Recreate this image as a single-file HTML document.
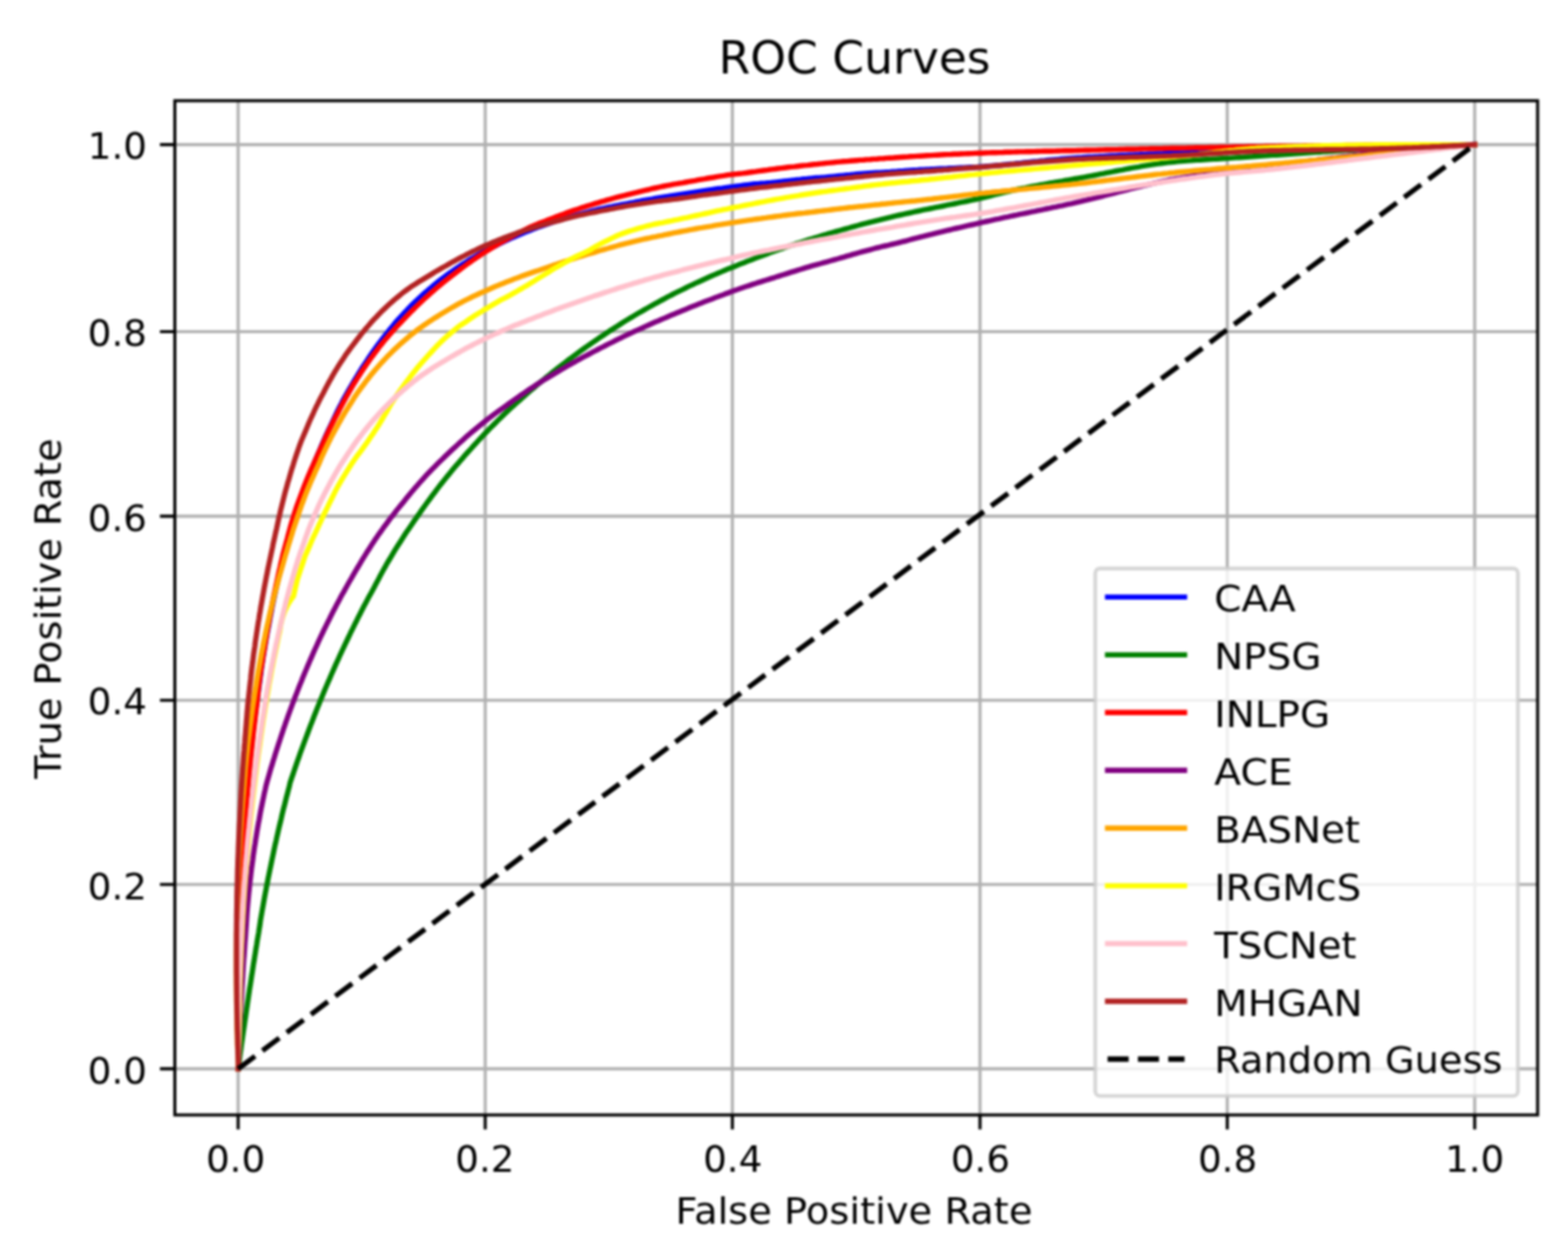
<!DOCTYPE html><html><head><meta charset="utf-8"><title>ROC Curves</title>
<style>html,body{margin:0;padding:0;background:#fff;width:1600px;height:1284px;overflow:hidden}svg{display:block;filter:blur(0.9px)}text{font-family:"DejaVu Sans", "Liberation Sans", sans-serif;fill:#000}</style></head><body>
<svg width="1600" height="1284" viewBox="0 0 1600 1284">
<rect width="1600" height="1284" fill="#fff"/>
<text x="872" y="75" font-size="46.5" text-anchor="middle">ROC Curves</text>
<path d="M243.0,102.8V1138.0M495.1,102.8V1138.0M747.3,102.8V1138.0M1000.0,102.8V1138.0M1252.3,102.8V1138.0M1504.8,102.8V1138.0M178.4,1090.9H1569.0M178.4,902.8H1569.0M178.4,714.7H1569.0M178.4,526.9H1569.0M178.4,338.5H1569.0M178.4,147.6H1569.0" stroke="#b0b0b0" stroke-width="3.1" fill="none"/>
<g fill="none" stroke-width="5.4" stroke-linejoin="round" stroke-linecap="square">
<path d="M243.0,1090.9 243.1,1086.3 243.1,1081.3 243.0,1076.4 242.9,1071.5 242.9,1066.6 242.8,1061.7 242.8,1056.8 242.7,1051.9 242.7,1047.0 242.7,1042.2 242.6,1037.3 242.6,1032.5 242.6,1027.7 242.6,1022.8 242.7,1018.0 242.7,1013.2 242.7,1008.5 242.8,1003.7 242.8,998.9 242.9,994.2 242.9,989.4 243.0,984.7 243.1,980.0 243.2,975.3 243.3,970.6 243.4,965.9 243.5,961.2 243.6,956.5 243.7,951.9 243.9,947.2 244.0,942.6 244.1,937.9 244.3,933.3 244.5,928.7 244.6,924.1 244.8,919.5 245.0,915.0 245.2,910.4 245.4,905.8 245.6,901.3 245.8,896.8 246.1,892.2 246.3,887.7 246.6,883.2 246.8,878.7 247.1,874.3 247.3,869.8 247.6,865.3 247.9,860.9 248.2,856.4 248.5,852.0 248.8,847.6 249.1,843.2 249.4,838.8 249.8,834.4 250.1,830.0 250.4,825.7 250.8,821.3 251.2,817.0 251.5,812.7 251.9,808.3 252.3,804.0 252.7,799.7 253.1,795.4 253.5,791.2 253.9,786.9 254.4,782.6 254.8,778.4 255.2,774.1 255.7,769.9 256.1,765.7 256.6,761.5 257.1,757.3 257.6,753.1 258.0,748.9 258.5,744.8 259.0,740.6 259.6,736.5 260.1,732.3 260.6,728.2 261.1,724.1 261.7,720.0 262.2,715.9 262.7,711.8 263.3,707.7 263.8,703.6 264.4,699.5 265.0,695.4 265.5,691.3 266.1,687.3 266.6,683.2 267.2,679.2 267.8,675.1 268.4,671.1 269.1,667.1 269.7,663.2 270.4,659.2 271.0,655.3 271.7,651.4 272.4,647.5 273.1,643.6 273.9,639.8 274.6,635.9 275.3,632.0 276.0,628.2 276.8,624.4 277.5,620.5 278.3,616.7 279.1,612.9 279.9,609.2 280.7,605.4 281.5,601.6 282.3,597.9 283.1,594.2 284.0,590.6 284.9,586.9 285.8,583.3 286.7,579.6 287.6,576.0 288.5,572.4 289.4,568.8 290.3,565.2 291.2,561.6 292.2,558.0 293.1,554.5 294.1,550.9 295.1,547.4 296.1,543.9 297.1,540.5 298.1,537.0 299.2,533.6 300.2,530.2 301.3,526.8 302.4,523.4 303.5,520.0 304.6,516.7 305.7,513.3 306.8,510.0 307.9,506.7 309.1,503.4 310.2,500.1 311.4,496.9 312.6,493.6 313.8,490.4 315.0,487.2 316.2,484.0 317.4,480.8 318.6,477.6 319.9,474.4 321.2,471.3 322.5,468.2 323.8,465.1 325.1,462.0 326.4,459.0 327.7,455.9 329.0,452.8 330.3,449.7 331.6,446.7 333.0,443.6 334.4,440.7 335.8,437.7 337.2,434.8 338.6,431.8 340.0,428.9 341.4,425.9 342.8,423.0 344.2,420.0 345.6,417.1 347.1,414.2 348.6,411.4 350.0,408.5 351.6,405.7 353.1,403.0 354.7,400.2 356.2,397.5 357.8,394.8 359.4,392.1 361.0,389.4 362.6,386.7 364.2,384.1 365.8,381.4 367.5,378.7 369.1,376.1 370.8,373.5 372.5,370.9 374.2,368.4 375.9,365.8 377.6,363.3 379.3,360.8 381.0,358.3 382.8,355.8 384.6,353.3 386.4,350.9 388.2,348.5 390.0,346.1 391.9,343.8 393.7,341.4 395.6,339.1 397.4,336.7 399.3,334.4 401.2,332.1 403.1,329.8 405.0,327.6 407.0,325.4 409.0,323.2 411.0,321.1 413.0,318.9 415.0,316.8 417.0,314.6 419.0,312.5 421.1,310.5 423.2,308.4 425.3,306.4 427.4,304.5 429.6,302.5 431.7,300.6 433.9,298.6 436.1,296.7 438.3,294.8 440.5,293.0 442.7,291.1 444.9,289.3 447.2,287.5 449.5,285.7 451.8,283.9 454.1,282.2 456.4,280.4 458.7,278.8 461.1,277.1 463.5,275.4 465.9,273.8 468.3,272.2 470.7,270.6 473.1,269.0 475.6,267.5 478.0,265.9 480.5,264.4 483.0,263.0 485.6,261.5 488.1,260.1 490.6,258.6 493.2,257.2 495.7,255.8 498.3,254.5 500.9,253.1 503.6,251.8 506.2,250.5 508.8,249.2 511.5,247.9 514.1,246.6 516.8,245.4 519.5,244.1 522.2,242.9 524.9,241.7 527.6,240.5 530.4,239.4 533.1,238.2 535.9,237.1 538.6,236.0 541.4,234.9 544.2,233.8 547.0,232.7 549.8,231.6 552.7,230.6 555.5,229.6 558.4,228.6 561.2,227.6 564.1,226.6 567.0,225.7 570.0,224.8 572.9,223.9 575.9,223.0 578.8,222.2 581.8,221.3 584.8,220.5 587.8,219.7 590.8,218.9 593.8,218.1 596.8,217.3 599.9,216.5 602.9,215.7 605.9,215.0 609.0,214.2 612.1,213.5 615.2,212.8 618.3,212.1 621.4,211.5 624.5,210.9 627.7,210.2 630.8,209.6 634.0,209.0 637.1,208.4 640.3,207.8 643.4,207.2 646.6,206.6 649.7,205.9 652.9,205.3 656.0,204.7 659.2,204.1 662.4,203.6 665.6,203.1 668.9,202.5 672.1,202.0 675.3,201.5 678.5,201.0 681.7,200.5 684.9,199.9 688.2,199.4 691.4,198.9 694.6,198.4 697.9,197.9 701.1,197.4 704.3,196.9 707.5,196.4 710.8,195.9 714.0,195.4 717.2,194.9 720.5,194.4 723.8,193.9 727.0,193.5 730.3,193.0 733.6,192.5 736.8,192.1 740.1,191.6 743.4,191.2 746.7,190.8 749.9,190.3 753.2,189.9 756.5,189.5 759.8,189.0 763.1,188.6 766.4,188.2 769.7,187.8 773.2,187.6 776.6,187.3 780.0,187.1 783.4,186.8 786.8,186.5 790.1,186.1 793.4,185.8 796.8,185.4 800.1,185.0 803.4,184.6 806.8,184.3 810.1,183.9 813.5,183.5 816.8,183.2 820.1,182.8 823.5,182.5 826.8,182.1 830.2,181.8 833.5,181.4 837.0,181.3 840.5,181.1 843.9,180.8 847.2,180.4 850.6,180.1 853.9,179.8 857.3,179.4 860.7,179.1 864.0,178.8 867.4,178.5 870.8,178.1 874.1,177.8 877.5,177.5 880.9,177.2 884.2,176.9 887.6,176.6 891.0,176.4 894.5,176.2 898.0,176.1 901.5,175.9 905.0,175.7 908.4,175.5 911.8,175.2 915.2,175.0 918.6,174.7 922.0,174.5 925.4,174.2 928.8,174.0 932.1,173.8 935.5,173.6 938.9,173.3 942.3,173.1 945.7,172.9 949.1,172.8 952.5,172.6 955.9,172.4 959.4,172.2 962.8,172.1 966.3,172.0 969.8,171.8 973.2,171.7 976.7,171.5 980.1,171.3 983.6,171.2 987.0,171.0 990.4,170.8 993.9,170.7 997.3,170.5 1000.8,170.2 1004.2,170.0 1007.6,169.7 1011.1,169.4 1014.5,169.1 1017.9,168.8 1021.4,168.5 1024.8,168.1 1028.2,167.8 1031.6,167.4 1035.1,167.1 1038.5,166.7 1041.9,166.4 1045.4,166.0 1048.8,165.6 1052.2,165.3 1055.7,164.9 1059.1,164.6 1062.6,164.2 1066.0,163.9 1069.5,163.5 1072.9,163.2 1076.3,162.9 1079.8,162.6 1083.2,162.3 1086.7,162.0 1090.1,161.7 1093.6,161.4 1097.0,161.2 1100.5,161.0 1103.9,160.8 1107.4,160.5 1110.8,160.3 1114.3,160.1 1117.8,159.9 1121.2,159.8 1124.7,159.6 1128.1,159.4 1131.6,159.2 1135.0,159.0 1138.5,158.9 1142.0,158.7 1145.4,158.5 1148.9,158.4 1152.4,158.2 1155.8,158.1 1159.3,157.9 1162.8,157.8 1166.2,157.6 1169.7,157.5 1173.2,157.3 1176.7,157.2 1180.1,157.0 1183.6,156.9 1187.1,156.8 1190.6,156.6 1194.1,156.5 1197.5,156.3 1201.0,156.2 1204.5,156.1 1208.0,155.9 1211.5,155.8 1215.0,155.7 1218.4,155.6 1221.9,155.5 1225.4,155.3 1228.9,155.2 1232.4,155.1 1235.9,155.0 1239.4,154.9 1242.9,154.8 1246.4,154.6 1249.9,154.5 1253.4,154.4 1256.9,154.3 1260.4,154.2 1263.9,154.1 1267.4,154.0 1270.9,153.9 1274.4,153.8 1277.9,153.7 1281.4,153.6 1284.9,153.5 1288.5,153.4 1292.0,153.2 1295.5,153.1 1299.0,153.0 1302.5,152.9 1306.0,152.8 1309.6,152.7 1313.1,152.6 1316.6,152.5 1320.1,152.4 1323.6,152.3 1327.2,152.1 1330.7,152.0 1334.2,151.9 1337.7,151.8 1341.3,151.7 1344.8,151.6 1348.3,151.5 1351.9,151.4 1355.4,151.3 1358.9,151.2 1362.5,151.1 1366.0,151.0 1369.6,150.8 1373.1,150.7 1376.6,150.6 1380.2,150.5 1383.7,150.4 1387.3,150.3 1390.8,150.2 1394.4,150.1 1397.9,150.1 1401.5,150.0 1405.0,149.9 1408.6,149.8 1412.1,149.7 1415.7,149.6 1419.2,149.5 1422.8,149.4 1426.3,149.3 1429.9,149.2 1433.5,149.2 1437.0,149.1 1440.6,149.0 1444.1,148.9 1447.7,148.8 1451.3,148.7 1454.8,148.7 1458.4,148.6 1462.0,148.5 1465.5,148.4 1469.1,148.3 1472.7,148.3 1476.3,148.2 1479.8,148.1 1483.4,148.0 1487.0,148.0 1490.6,147.9 1494.2,147.8 1497.7,147.7 1501.3,147.7 1504.8,147.6" stroke="#0000ff"/>
<path d="M243.0,1090.9 243.6,1086.8 244.2,1082.6 244.7,1078.5 245.3,1074.4 245.9,1070.2 246.4,1066.1 247.0,1062.0 247.6,1057.8 248.2,1053.7 248.8,1049.6 249.4,1045.5 250.0,1041.4 250.6,1037.3 251.2,1033.2 251.8,1029.1 252.4,1025.0 253.0,1020.9 253.6,1016.8 254.2,1012.8 254.8,1008.7 255.5,1004.6 256.1,1000.6 256.7,996.5 257.4,992.4 258.0,988.4 258.6,984.3 259.3,980.3 259.9,976.3 260.6,972.2 261.2,968.2 261.9,964.2 262.5,960.2 263.2,956.1 263.9,952.1 264.5,948.1 265.2,944.0 265.7,939.9 266.4,935.9 267.1,931.9 267.8,927.9 268.5,924.0 269.2,920.0 269.9,916.1 270.6,912.2 271.4,908.2 272.1,904.3 272.9,900.4 273.6,896.6 274.4,892.7 275.2,888.8 276.0,885.0 276.8,881.1 277.6,877.3 278.4,873.5 279.2,869.6 280.0,865.8 280.8,862.0 281.7,858.3 282.5,854.5 283.4,850.7 284.2,847.0 285.1,843.2 286.0,839.5 286.9,835.8 287.7,832.1 288.6,828.4 289.5,824.7 290.5,821.0 291.4,817.3 292.3,813.7 293.3,810.0 294.2,806.4 295.2,802.8 296.0,799.0 297.1,795.6 298.2,792.3 299.4,789.0 300.5,785.7 301.6,782.3 302.8,779.0 303.9,775.7 305.1,772.5 306.2,769.2 307.4,765.9 308.6,762.6 309.8,759.4 311.0,756.1 312.2,752.9 313.4,749.7 314.6,746.5 315.8,743.3 317.0,740.1 318.3,736.9 319.5,733.7 320.7,730.5 322.0,727.4 323.2,724.2 324.5,721.0 325.8,717.9 327.0,714.8 328.3,711.7 329.6,708.5 330.9,705.4 332.2,702.3 333.5,699.3 334.8,696.2 336.2,693.1 337.5,690.0 338.8,687.0 340.2,683.9 341.5,680.9 342.8,677.9 344.2,674.9 345.6,671.8 346.9,668.8 348.3,665.8 349.7,662.9 351.1,659.9 352.5,656.9 353.9,654.0 355.3,651.0 356.7,648.1 358.1,645.1 359.6,642.2 361.0,639.3 362.4,636.4 363.9,633.5 365.3,630.6 366.8,627.7 368.3,624.8 369.7,622.0 371.2,619.1 372.7,616.3 374.2,613.4 375.7,610.6 377.2,607.8 378.8,605.0 380.3,602.2 381.8,599.4 383.3,596.5 384.8,593.7 386.3,590.9 387.8,588.0 389.3,585.2 390.8,582.5 392.4,579.7 393.9,576.9 395.5,574.2 397.1,571.5 398.7,568.8 400.3,566.1 401.9,563.4 403.5,560.7 405.2,558.1 406.8,555.5 408.5,552.9 410.2,550.3 411.8,547.7 413.5,545.1 415.2,542.6 417.0,540.0 418.7,537.5 420.4,535.0 422.1,532.4 423.9,529.9 425.6,527.4 427.4,524.9 429.1,522.4 430.9,519.9 432.6,517.5 434.4,515.0 436.2,512.5 438.0,510.1 439.8,507.6 441.6,505.2 443.4,502.8 445.2,500.4 447.0,498.0 448.8,495.6 450.7,493.2 452.6,490.9 454.4,488.6 456.3,486.3 458.2,484.0 460.1,481.6 462.0,479.3 463.9,477.1 465.8,474.8 467.8,472.6 469.7,470.3 471.7,468.1 473.6,465.8 475.5,463.6 477.5,461.4 479.5,459.2 481.5,457.0 483.4,454.8 485.4,452.7 487.4,450.5 489.4,448.3 491.4,446.2 493.4,444.0 495.5,441.9 497.5,439.8 499.5,437.7 501.6,435.6 503.7,433.5 505.8,431.5 507.8,429.4 509.9,427.4 512.0,425.3 514.1,423.3 516.2,421.2 518.3,419.2 520.4,417.3 522.6,415.3 524.8,413.4 526.9,411.4 529.1,409.5 531.3,407.6 533.4,405.6 535.6,403.7 537.8,401.8 540.0,399.8 542.2,397.9 544.4,396.1 546.6,394.2 548.8,392.3 551.0,390.4 553.2,388.6 555.5,386.8 557.7,384.9 560.0,383.1 562.2,381.3 564.5,379.5 566.8,377.7 569.0,375.9 571.3,374.1 573.6,372.3 575.9,370.6 578.2,368.8 580.5,367.0 582.8,365.3 585.1,363.6 587.5,361.8 589.8,360.1 592.1,358.4 594.5,356.7 596.9,355.0 599.2,353.4 601.6,351.7 604.0,350.1 606.4,348.4 608.8,346.8 611.2,345.1 613.6,343.5 616.0,341.9 618.4,340.3 620.8,338.7 623.2,337.1 625.7,335.6 628.1,334.0 630.6,332.4 633.0,330.9 635.5,329.3 637.9,327.8 640.4,326.3 642.9,324.7 645.4,323.3 647.9,321.8 650.4,320.3 652.9,318.8 655.5,317.4 658.0,315.9 660.5,314.5 663.1,313.0 665.6,311.6 668.2,310.2 670.7,308.8 673.3,307.4 675.9,306.0 678.5,304.6 681.1,303.2 683.7,301.9 686.3,300.5 688.9,299.2 691.5,297.9 694.2,296.6 696.8,295.3 699.5,294.0 702.1,292.7 704.8,291.4 707.5,290.2 710.1,288.9 712.8,287.7 715.5,286.5 718.2,285.2 720.9,284.0 723.6,282.8 726.4,281.6 729.1,280.4 731.8,279.2 734.6,278.1 737.3,276.9 740.0,275.7 742.8,274.6 745.6,273.5 748.4,272.4 751.2,271.3 753.9,270.1 756.7,269.0 759.5,267.9 762.3,266.8 765.1,265.8 767.9,264.7 770.7,263.6 773.6,262.5 776.4,261.5 779.2,260.4 782.1,259.4 784.9,258.3 787.7,257.3 790.6,256.3 793.4,255.2 796.3,254.2 799.2,253.3 802.1,252.3 805.0,251.3 807.8,250.3 810.7,249.4 813.6,248.4 816.5,247.5 819.5,246.5 822.4,245.6 825.3,244.7 828.2,243.8 831.2,242.9 834.1,242.0 837.1,241.1 840.0,240.2 843.0,239.3 845.9,238.4 848.9,237.5 851.9,236.7 854.8,235.8 857.8,235.0 860.8,234.2 863.8,233.3 866.8,232.5 869.8,231.6 872.8,230.8 875.8,230.0 878.8,229.1 881.8,228.3 884.8,227.6 887.8,226.8 890.8,226.1 893.9,225.3 896.9,224.6 899.9,223.8 903.0,223.1 906.0,222.4 909.0,221.7 912.0,220.9 915.1,220.2 918.1,219.5 921.1,218.8 924.2,218.1 927.2,217.5 930.3,216.8 933.3,216.1 936.4,215.5 939.5,214.8 942.5,214.2 945.6,213.6 948.7,213.0 951.8,212.3 955.0,211.7 958.1,211.1 961.2,210.5 964.2,209.8 967.3,209.2 970.4,208.6 973.5,208.0 976.6,207.3 979.7,206.7 982.8,206.1 985.9,205.5 989.0,204.8 992.1,204.2 995.2,203.5 998.3,202.9 1001.4,202.2 1004.6,201.4 1007.7,200.6 1010.9,199.8 1014.1,199.0 1017.3,198.2 1020.4,197.4 1023.6,196.6 1026.8,195.9 1030.0,195.1 1033.2,194.4 1036.4,193.7 1039.6,193.0 1042.7,192.4 1045.9,191.8 1049.1,191.1 1052.3,190.5 1055.5,189.9 1058.7,189.3 1061.8,188.7 1065.0,188.2 1068.2,187.6 1071.4,187.0 1074.6,186.5 1077.8,185.9 1080.9,185.3 1084.1,184.8 1087.3,184.2 1090.6,183.7 1093.8,183.1 1097.0,182.5 1100.2,182.0 1103.4,181.4 1106.6,180.8 1109.9,180.2 1113.1,179.6 1116.3,179.0 1119.6,178.3 1122.8,177.7 1126.0,177.1 1129.3,176.4 1132.5,175.8 1135.8,175.2 1139.0,174.5 1142.3,173.9 1145.5,173.3 1148.8,172.6 1152.1,172.0 1155.3,171.4 1158.6,170.8 1161.9,170.3 1165.2,169.7 1168.5,169.1 1171.7,168.6 1175.0,168.1 1178.3,167.6 1181.6,167.1 1184.9,166.7 1188.2,166.3 1191.5,165.9 1194.8,165.5 1198.1,165.2 1201.4,164.9 1204.7,164.6 1208.1,164.3 1211.4,164.1 1214.7,163.9 1218.0,163.6 1221.4,163.4 1224.7,163.2 1228.0,163.0 1231.4,162.8 1234.7,162.6 1238.0,162.4 1241.4,162.2 1244.7,162.0 1248.1,161.8 1251.5,161.6 1254.8,161.4 1258.2,161.1 1261.5,160.9 1264.9,160.7 1268.3,160.5 1271.7,160.2 1275.0,160.0 1278.4,159.8 1281.8,159.5 1285.2,159.3 1288.6,159.1 1292.0,158.9 1295.4,158.6 1298.8,158.4 1302.2,158.2 1305.6,158.0 1309.0,157.7 1312.4,157.5 1315.8,157.3 1319.2,157.0 1322.7,156.8 1326.1,156.6 1329.5,156.3 1333.0,156.1 1336.4,155.9 1339.8,155.6 1343.3,155.4 1346.7,155.2 1350.2,154.9 1353.6,154.7 1357.1,154.5 1360.5,154.3 1364.0,154.1 1367.4,153.8 1370.9,153.6 1374.4,153.4 1377.8,153.2 1381.3,153.0 1384.8,152.8 1388.3,152.6 1391.8,152.4 1395.2,152.2 1398.7,152.1 1402.2,151.9 1405.7,151.7 1409.2,151.5 1412.7,151.4 1416.2,151.2 1419.8,151.0 1423.3,150.9 1426.8,150.7 1430.3,150.5 1433.8,150.4 1437.3,150.2 1440.9,150.1 1444.4,149.9 1447.9,149.7 1451.5,149.6 1455.0,149.4 1458.6,149.3 1462.1,149.1 1465.7,149.0 1469.2,148.9 1472.8,148.7 1476.3,148.6 1479.9,148.5 1483.5,148.3 1487.0,148.2 1490.6,148.1 1494.2,147.9 1497.7,147.8 1501.3,147.7 1504.8,147.6" stroke="#008000"/>
<path d="M243.0,1090.9 243.1,1086.2 243.1,1081.3 243.0,1076.4 242.9,1071.5 242.9,1066.6 242.9,1061.8 242.8,1056.9 242.8,1052.0 242.8,1047.2 242.8,1042.3 242.8,1037.5 242.8,1032.7 242.8,1027.9 242.8,1023.1 242.9,1018.3 242.9,1013.5 243.0,1008.8 243.0,1004.0 243.1,999.3 243.1,994.5 243.2,989.8 243.3,985.1 243.4,980.4 243.5,975.7 243.6,971.0 243.7,966.3 243.8,961.7 244.0,957.0 244.1,952.4 244.3,947.7 244.4,943.1 244.6,938.5 244.7,933.9 244.9,929.3 245.1,924.7 245.3,920.1 245.5,915.6 245.7,911.0 245.9,906.5 246.1,902.0 246.3,897.4 246.6,892.9 246.8,888.4 247.1,883.9 247.3,879.4 247.6,875.0 247.9,870.5 248.1,866.0 248.4,861.6 248.7,857.2 249.0,852.7 249.3,848.3 249.7,843.9 250.0,839.5 250.3,835.2 250.7,830.8 251.0,826.4 251.4,822.1 251.7,817.7 252.1,813.4 252.5,809.1 252.8,804.7 253.2,800.4 253.6,796.1 254.0,791.8 254.4,787.6 254.9,783.3 255.3,779.0 255.7,774.8 256.2,770.6 256.6,766.3 257.1,762.1 257.5,757.9 258.0,753.7 258.4,749.5 258.9,745.3 259.4,741.1 259.9,736.9 260.4,732.8 260.9,728.6 261.4,724.4 261.9,720.3 262.4,716.1 262.8,711.9 263.3,707.7 263.7,703.4 264.2,699.2 264.7,695.1 265.3,691.0 265.8,687.0 266.4,682.9 267.1,678.9 267.7,674.9 268.3,670.9 268.9,666.9 269.6,663.0 270.2,659.0 270.8,655.0 271.5,651.0 272.2,647.1 272.8,643.2 273.6,639.3 274.3,635.5 275.0,631.6 275.7,627.7 276.4,623.9 277.2,620.0 277.9,616.2 278.6,612.4 279.4,608.5 280.2,604.8 281.0,601.0 281.8,597.2 282.6,593.5 283.4,589.7 284.2,586.0 285.0,582.3 285.9,578.6 286.7,574.8 287.6,571.2 288.4,567.5 289.3,563.9 290.3,560.3 291.2,556.8 292.2,553.2 293.2,549.7 294.1,546.1 295.1,542.6 296.0,539.1 297.0,535.6 298.0,532.1 299.1,528.7 300.1,525.2 301.2,521.8 302.3,518.4 303.4,515.1 304.6,511.8 305.8,508.6 307.0,505.4 308.2,502.2 309.4,499.0 310.6,495.8 311.9,492.6 313.1,489.5 314.4,486.4 315.7,483.3 317.0,480.2 318.4,477.2 319.7,474.2 321.1,471.1 322.4,468.1 323.8,465.1 325.1,462.1 326.5,459.1 327.9,456.1 329.3,453.1 330.6,450.1 331.9,447.1 333.3,444.1 334.7,441.1 336.1,438.2 337.5,435.3 339.0,432.4 340.4,429.5 341.9,426.6 343.4,423.8 344.9,420.9 346.3,418.1 347.8,415.2 349.3,412.4 350.8,409.6 352.4,406.8 353.9,404.0 355.5,401.3 357.0,398.6 358.6,395.9 360.2,393.2 361.8,390.5 363.5,387.9 365.1,385.3 366.8,382.7 368.5,380.1 370.2,377.6 371.9,375.0 373.6,372.5 375.4,370.0 377.1,367.5 378.9,365.0 380.7,362.6 382.5,360.2 384.3,357.8 386.1,355.4 387.9,353.0 389.8,350.7 391.7,348.4 393.6,346.1 395.5,343.9 397.5,341.6 399.4,339.4 401.4,337.2 403.3,335.0 405.3,332.9 407.4,330.7 409.4,328.6 411.4,326.5 413.4,324.4 415.5,322.2 417.5,320.1 419.5,318.0 421.6,316.0 423.7,313.9 425.8,311.9 427.9,309.9 430.0,307.9 432.1,305.9 434.2,303.9 436.4,302.0 438.6,300.0 440.7,298.1 442.9,296.2 445.1,294.3 447.3,292.4 449.5,290.6 451.8,288.7 454.0,286.9 456.3,285.1 458.5,283.3 460.8,281.5 463.1,279.8 465.4,278.0 467.7,276.3 470.0,274.5 472.3,272.8 474.7,271.1 477.0,269.4 479.4,267.7 481.7,266.1 484.1,264.4 486.5,262.8 488.9,261.2 491.4,259.6 493.8,258.0 496.2,256.5 498.7,254.9 501.1,253.4 503.6,251.9 506.1,250.4 508.6,248.9 511.1,247.4 513.7,246.0 516.2,244.6 518.8,243.2 521.3,241.8 523.9,240.4 526.5,239.1 529.1,237.7 531.8,236.4 534.4,235.1 537.0,233.8 539.7,232.5 542.4,231.3 545.1,230.1 547.9,229.0 550.6,227.8 553.4,226.7 556.2,225.7 559.0,224.6 561.8,223.5 564.6,222.4 567.4,221.3 570.2,220.3 573.0,219.2 575.9,218.2 578.7,217.1 581.6,216.1 584.4,215.1 587.3,214.2 590.2,213.2 593.1,212.2 596.0,211.3 598.9,210.4 601.8,209.5 604.8,208.6 607.7,207.7 610.7,206.8 613.6,205.9 616.6,205.1 619.6,204.2 622.6,203.4 625.5,202.5 628.5,201.7 631.5,200.9 634.6,200.1 637.6,199.4 640.6,198.6 643.7,197.8 646.7,197.1 649.8,196.4 652.8,195.6 655.9,194.9 659.0,194.2 662.1,193.5 665.1,192.7 668.2,192.0 671.3,191.3 674.4,190.7 677.6,190.0 680.7,189.4 683.9,188.8 687.0,188.2 690.2,187.7 693.4,187.1 696.6,186.6 699.8,186.0 703.0,185.4 706.1,184.8 709.3,184.3 712.5,183.7 715.7,183.1 718.9,182.6 722.1,182.0 725.3,181.5 728.5,181.0 731.7,180.4 734.9,179.9 738.1,179.4 741.4,178.8 744.6,178.4 747.9,178.0 751.3,177.6 754.6,177.2 757.9,176.9 761.2,176.5 764.5,176.0 767.8,175.5 771.0,175.1 774.3,174.6 777.6,174.2 780.9,173.8 784.2,173.3 787.4,172.9 790.7,172.5 794.0,172.0 797.3,171.6 800.6,171.2 803.9,170.8 807.2,170.4 810.6,170.1 813.9,169.7 817.2,169.3 820.6,168.9 823.9,168.6 827.2,168.2 830.6,167.8 833.9,167.5 837.3,167.1 840.6,166.8 844.0,166.4 847.3,166.1 850.7,165.8 854.0,165.4 857.4,165.1 860.8,164.8 864.2,164.6 867.7,164.3 871.0,164.0 874.4,163.7 877.8,163.4 881.2,163.2 884.6,162.9 888.0,162.7 891.4,162.4 894.8,162.2 898.2,161.9 901.7,161.7 905.1,161.4 908.5,161.2 911.9,161.0 915.3,160.7 918.7,160.5 922.1,160.3 925.6,160.1 929.0,159.8 932.4,159.6 935.8,159.4 939.3,159.2 942.7,159.0 946.1,158.8 949.6,158.6 953.0,158.4 956.4,158.2 959.9,158.0 963.4,157.8 966.9,157.6 970.4,157.5 973.9,157.3 977.4,157.2 980.9,157.0 984.4,156.9 987.9,156.7 991.4,156.6 994.9,156.4 998.5,156.3 1002.0,156.2 1005.5,156.0 1009.0,155.9 1012.6,155.8 1016.1,155.7 1019.7,155.6 1023.2,155.5 1026.8,155.3 1030.3,155.2 1033.9,155.1 1037.4,155.0 1040.9,154.9 1044.4,154.9 1047.9,154.8 1051.4,154.7 1055.0,154.6 1058.5,154.5 1062.0,154.4 1065.5,154.3 1069.0,154.2 1072.5,154.2 1076.0,154.1 1079.5,154.0 1083.0,153.9 1086.5,153.8 1090.0,153.7 1093.5,153.7 1097.0,153.6 1100.5,153.5 1104.0,153.4 1107.5,153.3 1111.0,153.2 1114.5,153.1 1118.0,153.1 1121.5,153.0 1125.0,152.9 1128.5,152.8 1132.0,152.7 1135.6,152.6 1139.1,152.6 1142.6,152.5 1146.1,152.4 1149.6,152.3 1153.2,152.2 1156.7,152.2 1160.2,152.1 1163.7,152.0 1167.3,151.9 1170.8,151.9 1174.3,151.8 1177.8,151.7 1181.4,151.6 1184.9,151.6 1188.4,151.5 1192.0,151.4 1195.5,151.3 1199.1,151.3 1202.6,151.2 1206.1,151.1 1209.7,151.1 1213.2,151.0 1216.8,150.9 1220.3,150.8 1223.9,150.8 1227.4,150.7 1231.0,150.6 1234.5,150.5 1238.1,150.5 1241.7,150.4 1245.2,150.3 1248.8,150.3 1252.3,150.2 1255.9,150.1 1259.5,150.0 1263.0,150.0 1266.6,149.9 1270.2,149.9 1273.7,149.8 1277.3,149.7 1280.9,149.7 1284.5,149.6 1288.0,149.6 1291.6,149.5 1295.2,149.5 1298.8,149.4 1302.3,149.4 1305.9,149.3 1309.5,149.3 1313.1,149.2 1316.7,149.2 1320.3,149.2 1323.9,149.1 1327.5,149.1 1331.0,149.0 1334.6,149.0 1338.2,148.9 1341.8,148.9 1345.4,148.8 1349.0,148.8 1352.6,148.8 1356.2,148.7 1359.8,148.7 1363.4,148.6 1367.0,148.6 1370.7,148.6 1374.3,148.5 1377.9,148.5 1381.5,148.4 1385.1,148.4 1388.7,148.4 1392.3,148.3 1395.9,148.3 1399.6,148.3 1403.2,148.2 1406.8,148.2 1410.4,148.2 1414.1,148.1 1417.7,148.1 1421.3,148.1 1424.9,148.0 1428.6,148.0 1432.2,148.0 1435.8,148.0 1439.5,147.9 1443.1,147.9 1446.7,147.9 1450.4,147.8 1454.0,147.8 1457.6,147.8 1461.3,147.8 1464.9,147.8 1468.6,147.7 1472.2,147.7 1475.9,147.7 1479.5,147.7 1483.2,147.7 1486.8,147.7 1490.5,147.6 1494.1,147.6 1497.8,147.6 1501.4,147.6 1504.8,147.6" stroke="#ff0000"/>
<path d="M243.0,1090.9 243.2,1086.2 243.4,1081.5 243.6,1076.8 243.8,1072.1 244.0,1067.4 244.2,1062.7 244.4,1058.0 244.6,1053.3 244.8,1048.7 245.0,1044.0 245.3,1039.3 245.5,1034.7 245.7,1030.1 246.0,1025.4 246.2,1020.8 246.5,1016.2 246.7,1011.6 247.0,1007.0 247.3,1002.4 247.6,997.8 247.8,993.2 248.1,988.6 248.4,984.1 248.7,979.5 249.1,975.0 249.4,970.4 249.7,965.9 250.0,961.4 250.4,956.9 250.7,952.4 251.0,947.9 251.3,943.3 251.6,938.7 251.9,934.1 252.2,929.6 252.6,925.1 253.0,920.7 253.4,916.3 253.8,911.9 254.3,907.5 254.7,903.2 255.2,898.9 255.7,894.6 256.2,890.3 256.7,886.1 257.3,881.8 257.9,877.6 258.4,873.4 259.0,869.3 259.6,865.1 260.3,861.0 260.9,856.9 261.6,852.8 262.2,848.8 262.9,844.7 263.6,840.7 264.4,836.7 265.1,832.7 265.8,828.8 266.6,824.8 267.4,820.9 268.2,817.0 269.0,813.2 269.8,809.3 270.7,805.5 271.5,801.7 272.5,798.0 273.5,794.5 274.5,791.0 275.5,787.5 276.5,784.1 277.6,780.6 278.6,777.2 279.7,773.8 280.7,770.4 281.8,767.0 282.9,763.6 284.0,760.2 285.1,756.8 286.2,753.5 287.3,750.2 288.4,746.8 289.5,743.5 290.7,740.2 291.8,736.9 293.0,733.6 294.1,730.4 295.3,727.1 296.5,723.9 297.7,720.6 298.9,717.4 300.1,714.2 301.3,711.0 302.6,707.8 303.8,704.6 305.0,701.5 306.3,698.3 307.6,695.2 308.8,692.0 310.1,688.9 311.4,685.8 312.7,682.7 314.0,679.6 315.3,676.6 316.6,673.5 318.0,670.5 319.3,667.4 320.6,664.4 322.0,661.4 323.4,658.4 324.7,655.4 326.1,652.4 327.5,649.4 328.9,646.5 330.3,643.5 331.8,640.6 333.2,637.7 334.6,634.8 336.1,631.9 337.5,629.0 339.0,626.1 340.4,623.3 341.9,620.4 343.4,617.6 344.9,614.7 346.4,611.9 347.9,609.1 349.4,606.3 351.0,603.6 352.5,600.8 354.1,598.0 355.6,595.3 357.2,592.5 358.8,589.8 360.3,587.1 361.9,584.4 363.5,581.7 365.1,579.0 366.7,576.3 368.3,573.6 369.9,570.9 371.5,568.3 373.2,565.6 374.8,563.0 376.5,560.4 378.2,557.8 379.8,555.2 381.5,552.7 383.2,550.1 385.0,547.6 386.7,545.1 388.5,542.6 390.2,540.2 392.0,537.7 393.8,535.3 395.6,532.8 397.4,530.4 399.2,528.0 401.1,525.7 402.9,523.3 404.7,520.9 406.6,518.6 408.5,516.3 410.4,514.0 412.3,511.7 414.1,509.3 416.0,507.0 417.9,504.7 419.8,502.4 421.7,500.2 423.6,497.9 425.6,495.7 427.5,493.5 429.5,491.3 431.5,489.1 433.4,486.9 435.4,484.7 437.4,482.6 439.5,480.5 441.5,478.4 443.6,476.3 445.7,474.2 447.7,472.2 449.8,470.1 451.9,468.1 454.0,466.0 456.1,464.0 458.2,462.0 460.3,460.0 462.4,458.0 464.6,456.1 466.7,454.1 468.8,452.1 471.0,450.2 473.2,448.2 475.3,446.3 477.5,444.4 479.7,442.5 481.9,440.6 484.1,438.8 486.4,437.0 488.6,435.1 490.8,433.3 493.1,431.5 495.4,429.6 497.6,427.8 499.9,426.1 502.2,424.3 504.5,422.6 506.9,420.9 509.2,419.2 511.6,417.6 513.9,415.9 516.3,414.2 518.6,412.5 521.0,410.8 523.3,409.1 525.7,407.4 528.1,405.8 530.4,404.1 532.8,402.5 535.2,400.9 537.6,399.2 540.0,397.6 542.4,396.0 544.8,394.4 547.2,392.8 549.7,391.2 552.1,389.7 554.6,388.1 557.0,386.6 559.5,385.1 562.0,383.6 564.5,382.1 567.0,380.6 569.5,379.1 572.0,377.6 574.5,376.2 577.0,374.7 579.6,373.2 582.1,371.8 584.6,370.4 587.2,369.0 589.7,367.5 592.3,366.1 594.8,364.7 597.4,363.3 600.0,362.0 602.6,360.6 605.2,359.2 607.8,357.9 610.4,356.5 613.0,355.2 615.6,353.9 618.2,352.5 620.8,351.2 623.5,349.9 626.1,348.6 628.7,347.2 631.4,345.9 634.0,344.7 636.6,343.4 639.3,342.1 642.0,340.8 644.6,339.6 647.3,338.3 650.0,337.1 652.7,335.9 655.4,334.7 658.1,333.4 660.8,332.2 663.5,331.0 666.2,329.8 669.0,328.6 671.7,327.5 674.4,326.3 677.1,325.1 679.9,323.9 682.6,322.8 685.4,321.6 688.1,320.5 690.9,319.3 693.6,318.2 696.4,317.0 699.1,315.9 701.9,314.8 704.7,313.6 707.4,312.5 710.2,311.4 713.0,310.3 715.8,309.2 718.6,308.1 721.4,307.0 724.2,306.0 727.0,304.9 729.8,303.8 732.7,302.8 735.5,301.7 738.3,300.7 741.1,299.6 744.0,298.6 746.8,297.5 749.6,296.5 752.5,295.5 755.3,294.5 758.2,293.5 761.1,292.5 764.0,291.6 766.9,290.6 769.8,289.7 772.7,288.7 775.6,287.8 778.6,286.9 781.5,286.0 784.4,285.1 787.4,284.2 790.3,283.3 793.2,282.3 796.1,281.4 799.0,280.5 801.9,279.6 804.9,278.6 807.8,277.7 810.7,276.8 813.7,275.9 816.6,275.0 819.5,274.1 822.5,273.2 825.4,272.3 828.4,271.4 831.3,270.6 834.3,269.8 837.4,269.0 840.4,268.2 843.4,267.4 846.4,266.5 849.3,265.7 852.3,264.8 855.3,264.0 858.3,263.1 861.2,262.3 864.2,261.4 867.2,260.6 870.2,259.7 873.1,258.9 876.1,258.0 879.1,257.2 882.1,256.4 885.1,255.6 888.1,254.8 891.0,254.0 894.0,253.2 897.1,252.5 900.1,251.7 903.2,251.0 906.2,250.3 909.3,249.5 912.3,248.8 915.4,248.1 918.4,247.3 921.5,246.5 924.5,245.8 927.5,245.0 930.5,244.2 933.5,243.4 936.5,242.7 939.5,241.9 942.5,241.2 945.6,240.4 948.6,239.6 951.6,238.9 954.6,238.1 957.6,237.4 960.7,236.7 963.8,235.9 966.8,235.2 969.9,234.5 973.0,233.7 976.0,233.0 979.1,232.3 982.2,231.6 985.2,230.9 988.3,230.2 991.4,229.5 994.4,228.8 997.5,228.1 1000.6,227.4 1003.7,226.7 1006.7,226.0 1009.8,225.3 1012.9,224.6 1016.0,223.9 1019.1,223.3 1022.2,222.6 1025.2,221.9 1028.3,221.3 1031.4,220.6 1034.5,220.0 1037.6,219.4 1040.7,218.7 1043.7,218.1 1046.8,217.5 1049.9,216.8 1053.0,216.2 1056.0,215.6 1059.1,214.9 1062.2,214.3 1065.3,213.7 1068.4,213.0 1071.5,212.4 1074.6,211.7 1077.7,211.1 1080.8,210.4 1083.9,209.8 1087.0,209.1 1090.1,208.4 1093.2,207.8 1096.3,207.1 1099.5,206.4 1102.6,205.7 1105.7,204.9 1108.8,204.2 1112.0,203.4 1115.1,202.7 1118.2,201.9 1121.4,201.1 1124.5,200.3 1127.7,199.5 1130.8,198.7 1134.0,197.9 1137.1,197.1 1140.3,196.2 1143.4,195.4 1146.6,194.6 1149.7,193.8 1152.9,193.0 1156.1,192.2 1159.2,191.4 1162.4,190.6 1165.6,189.8 1168.8,189.0 1171.9,188.3 1175.1,187.6 1178.3,186.8 1181.5,186.1 1184.7,185.5 1187.8,184.8 1191.0,184.2 1194.2,183.5 1197.4,183.0 1200.6,182.4 1203.8,181.9 1207.0,181.3 1210.2,180.8 1213.4,180.3 1216.6,179.8 1219.9,179.3 1223.1,178.9 1226.3,178.4 1229.5,177.9 1232.7,177.5 1235.9,177.0 1239.2,176.6 1242.4,176.2 1245.6,175.8 1248.9,175.3 1252.1,174.9 1255.3,174.5 1258.6,174.1 1261.8,173.7 1265.1,173.3 1268.3,172.9 1271.5,172.5 1274.8,172.1 1278.0,171.7 1281.3,171.3 1284.6,170.9 1287.8,170.5 1291.1,170.1 1294.3,169.7 1297.6,169.3 1300.9,168.9 1304.1,168.5 1307.4,168.0 1310.7,167.6 1314.0,167.2 1317.3,166.8 1320.5,166.3 1323.8,165.9 1327.1,165.5 1330.4,165.1 1333.7,164.6 1337.0,164.2 1340.3,163.8 1343.6,163.4 1346.9,162.9 1350.2,162.5 1353.5,162.1 1356.8,161.7 1360.1,161.3 1363.4,160.9 1366.7,160.4 1370.0,160.0 1373.4,159.6 1376.7,159.2 1380.0,158.9 1383.3,158.5 1386.7,158.1 1390.0,157.7 1393.3,157.3 1396.7,157.0 1400.0,156.6 1403.3,156.3 1406.7,155.9 1410.0,155.6 1413.4,155.3 1416.7,154.9 1420.1,154.6 1423.4,154.3 1426.8,154.0 1430.2,153.7 1433.5,153.3 1436.9,153.0 1440.2,152.7 1443.6,152.4 1447.0,152.1 1450.4,151.8 1453.7,151.5 1457.1,151.2 1460.5,151.0 1463.9,150.7 1467.3,150.4 1470.6,150.1 1474.0,149.9 1477.4,149.6 1480.8,149.3 1484.2,149.1 1487.6,148.8 1491.0,148.6 1494.4,148.3 1497.8,148.1 1501.2,147.8 1504.8,147.6" stroke="#800080"/>
<path d="M243.0,1090.9 243.1,1086.2 242.9,1081.1 242.7,1076.1 242.6,1071.0 242.4,1066.0 242.3,1061.0 242.2,1056.0 242.0,1051.0 241.9,1046.0 241.8,1041.0 241.7,1036.1 241.6,1031.1 241.6,1026.2 241.5,1021.3 241.4,1016.4 241.4,1011.5 241.3,1006.6 241.3,1001.7 241.3,996.9 241.3,992.0 241.3,987.2 241.3,982.4 241.3,977.6 241.3,972.8 241.4,968.0 241.4,963.2 241.5,958.5 241.5,953.7 241.6,949.0 241.7,944.3 241.8,939.6 241.9,934.9 242.0,930.2 242.1,925.5 242.2,920.9 242.4,916.2 242.5,911.6 242.7,907.0 242.8,902.4 243.0,897.8 243.2,893.2 243.4,888.6 243.6,884.1 243.8,879.5 244.0,875.0 244.2,870.5 244.5,866.0 244.7,861.5 245.0,857.0 245.2,852.5 245.5,848.0 245.8,843.6 246.1,839.2 246.4,834.7 246.7,830.3 247.0,825.9 247.3,821.5 247.7,817.1 248.0,812.8 248.4,808.4 248.7,804.0 249.1,799.7 249.4,795.3 249.8,791.0 250.1,786.6 250.5,782.3 250.9,777.9 251.3,773.7 251.8,769.5 252.3,765.3 252.7,761.2 253.2,757.0 253.7,752.9 254.3,748.7 254.8,744.6 255.3,740.5 255.9,736.4 256.4,732.3 257.0,728.2 257.5,724.1 258.1,720.1 258.7,716.0 259.3,712.0 259.9,708.0 260.5,704.0 261.2,700.0 261.8,696.0 262.5,692.1 263.1,688.1 263.8,684.2 264.5,680.3 265.2,676.4 265.9,672.5 266.6,668.7 267.3,664.8 268.1,661.0 268.8,657.1 269.6,653.3 270.4,649.5 271.1,645.8 271.9,642.0 272.7,638.3 273.6,634.5 274.4,630.8 275.2,627.1 276.1,623.4 277.0,619.8 277.9,616.1 278.8,612.5 279.7,608.9 280.6,605.3 281.5,601.7 282.5,598.1 283.4,594.5 284.3,591.0 285.3,587.4 286.3,583.9 287.3,580.4 288.3,576.9 289.3,573.5 290.3,570.0 291.3,566.6 292.4,563.1 293.4,559.7 294.4,556.2 295.5,552.8 296.5,549.4 297.6,546.0 298.6,542.5 299.7,539.2 300.8,535.8 302.0,532.5 303.1,529.2 304.2,525.8 305.3,522.5 306.5,519.2 307.6,515.9 308.8,512.7 310.0,509.5 311.2,506.3 312.5,503.1 313.7,500.0 315.0,496.9 316.3,493.8 317.6,490.7 319.0,487.7 320.3,484.7 321.6,481.6 323.0,478.6 324.4,475.7 325.8,472.6 327.0,469.5 328.3,466.4 329.7,463.4 331.1,460.4 332.5,457.4 333.9,454.5 335.3,451.6 336.8,448.7 338.2,445.8 339.7,443.0 341.2,440.2 342.7,437.4 344.3,434.6 345.8,431.8 347.4,429.1 348.9,426.3 350.5,423.6 352.1,420.9 353.7,418.3 355.4,415.7 357.0,413.0 358.7,410.4 360.3,407.8 361.9,405.1 363.7,402.6 365.4,400.1 367.2,397.7 369.0,395.2 370.8,392.8 372.6,390.4 374.4,388.0 376.3,385.7 378.1,383.3 380.0,381.0 381.9,378.7 383.8,376.5 385.8,374.2 387.7,372.0 389.7,369.8 391.7,367.7 393.7,365.5 395.7,363.4 397.8,361.3 399.8,359.3 401.9,357.2 404.0,355.2 406.2,353.2 408.3,351.3 410.5,349.4 412.7,347.5 414.9,345.6 417.1,343.7 419.3,341.9 421.6,340.1 423.8,338.3 426.2,336.5 428.5,334.8 430.9,333.2 433.2,331.5 435.6,329.9 438.0,328.2 440.4,326.7 442.9,325.1 445.3,323.6 447.8,322.0 450.2,320.5 452.7,319.0 455.2,317.5 457.7,316.0 460.2,314.5 462.7,313.1 465.3,311.6 467.8,310.2 470.4,308.8 473.0,307.4 475.6,306.1 478.2,304.8 480.9,303.5 483.5,302.2 486.2,301.0 488.9,299.7 491.6,298.5 494.3,297.4 497.0,296.2 499.7,295.0 502.4,293.8 505.2,292.6 507.9,291.4 510.7,290.3 513.5,289.2 516.2,288.1 519.0,287.0 521.8,285.9 524.6,284.8 527.5,283.8 530.3,282.7 533.1,281.6 535.9,280.6 538.8,279.6 541.7,278.6 544.5,277.6 547.4,276.7 550.3,275.7 553.1,274.7 556.0,273.7 558.9,272.7 561.7,271.7 564.6,270.7 567.5,269.8 570.4,268.8 573.3,267.9 576.2,266.9 579.1,266.0 582.0,265.0 584.9,264.1 587.8,263.1 590.7,262.2 593.7,261.3 596.6,260.4 599.6,259.5 602.5,258.7 605.5,257.8 608.5,256.9 611.4,256.0 614.4,255.2 617.3,254.3 620.3,253.5 623.3,252.6 626.3,251.8 629.3,251.0 632.3,250.2 635.3,249.4 638.3,248.6 641.4,247.9 644.4,247.1 647.4,246.3 650.5,245.6 653.6,244.9 656.7,244.2 659.8,243.5 662.9,242.9 666.0,242.2 669.1,241.6 672.3,240.9 675.4,240.3 678.5,239.6 681.6,239.0 684.8,238.3 687.9,237.7 691.1,237.1 694.2,236.5 697.4,235.9 700.5,235.3 703.7,234.7 706.9,234.1 710.0,233.5 713.2,232.9 716.4,232.4 719.6,231.8 722.8,231.3 726.0,230.8 729.3,230.2 732.5,229.7 735.7,229.2 738.9,228.6 742.1,228.1 745.3,227.6 748.6,227.1 751.8,226.6 755.0,226.1 758.2,225.6 761.5,225.1 764.8,224.6 768.0,224.2 771.3,223.7 774.6,223.3 777.8,222.8 781.1,222.4 784.4,221.9 787.7,221.5 791.0,221.0 794.2,220.6 797.5,220.2 800.8,219.7 804.1,219.3 807.4,218.9 810.7,218.5 814.0,218.0 817.3,217.7 820.7,217.4 824.0,217.0 827.3,216.6 830.6,216.2 833.9,215.8 837.3,215.4 840.6,215.0 843.9,214.6 847.2,214.2 850.5,213.8 853.8,213.4 857.2,213.0 860.5,212.6 863.8,212.2 867.1,211.8 870.4,211.5 873.8,211.1 877.2,210.8 880.5,210.5 883.9,210.1 887.2,209.8 890.5,209.4 893.8,209.0 897.2,208.7 900.5,208.3 903.8,208.0 907.1,207.6 910.5,207.3 913.8,206.9 917.1,206.6 920.4,206.3 923.8,205.9 927.1,205.6 930.5,205.3 933.9,205.0 937.2,204.6 940.6,204.3 943.9,203.9 947.2,203.5 950.5,203.2 953.9,202.8 957.2,202.4 960.5,202.0 963.9,201.6 967.2,201.3 970.5,200.9 973.8,200.5 977.2,200.1 980.5,199.7 983.8,199.3 987.2,198.9 990.5,198.5 993.8,198.2 997.2,197.8 1000.5,197.4 1003.8,197.1 1007.2,196.7 1010.5,196.4 1013.8,196.0 1017.2,195.7 1020.5,195.4 1023.8,195.0 1027.2,194.7 1030.5,194.4 1033.9,194.0 1037.2,193.7 1040.5,193.4 1043.9,193.1 1047.2,192.7 1050.6,192.4 1054.0,192.1 1057.3,191.8 1060.7,191.5 1064.0,191.1 1067.4,190.8 1070.7,190.5 1074.1,190.1 1077.5,189.8 1080.8,189.5 1084.2,189.1 1087.5,188.8 1090.9,188.5 1094.2,188.1 1097.6,187.8 1101.0,187.4 1104.3,187.0 1107.7,186.7 1111.0,186.3 1114.4,185.9 1117.7,185.5 1121.1,185.1 1124.4,184.7 1127.8,184.3 1131.2,183.9 1134.5,183.5 1137.9,183.1 1141.2,182.7 1144.6,182.3 1147.9,181.9 1151.3,181.5 1154.6,181.1 1158.0,180.7 1161.3,180.3 1164.7,179.9 1168.0,179.5 1171.4,179.1 1174.8,178.7 1178.1,178.3 1181.5,177.9 1184.8,177.6 1188.2,177.2 1191.5,176.9 1194.9,176.5 1198.2,176.2 1201.6,175.8 1205.0,175.5 1208.3,175.2 1211.7,174.9 1215.0,174.6 1218.4,174.3 1221.7,174.0 1225.1,173.7 1228.5,173.4 1231.8,173.1 1235.2,172.9 1238.5,172.6 1241.9,172.3 1245.3,172.0 1248.6,171.8 1252.0,171.5 1255.3,171.2 1258.7,170.9 1262.1,170.7 1265.4,170.4 1268.8,170.1 1272.2,169.8 1275.5,169.6 1278.9,169.3 1282.2,169.0 1285.6,168.7 1289.0,168.4 1292.3,168.1 1295.7,167.8 1299.1,167.5 1302.4,167.2 1305.8,166.9 1309.2,166.6 1312.5,166.3 1315.9,166.0 1319.3,165.6 1322.6,165.3 1326.0,165.0 1329.4,164.7 1332.7,164.4 1336.1,164.1 1339.5,163.8 1342.8,163.5 1346.2,163.1 1349.6,162.8 1352.9,162.5 1356.3,162.2 1359.7,161.9 1363.1,161.5 1366.4,161.2 1369.8,160.9 1373.2,160.6 1376.5,160.3 1379.9,159.9 1383.3,159.6 1386.7,159.3 1390.0,159.0 1393.4,158.6 1396.8,158.3 1400.1,158.0 1403.5,157.7 1406.9,157.3 1410.3,157.0 1413.6,156.7 1417.0,156.4 1420.4,156.0 1423.8,155.7 1427.2,155.4 1430.5,155.0 1433.9,154.7 1437.3,154.4 1440.7,154.0 1444.0,153.7 1447.4,153.4 1450.8,153.0 1454.2,152.7 1457.6,152.4 1460.9,152.0 1464.3,151.7 1467.7,151.3 1471.1,151.0 1474.5,150.7 1477.8,150.3 1481.2,150.0 1484.6,149.6 1488.0,149.3 1491.4,149.0 1494.7,148.6 1498.1,148.3 1501.5,147.9 1504.8,147.6" stroke="#ffa500"/>
<path d="M243.0,1090.9 243.1,1086.2 243.3,1081.5 243.4,1076.7 243.5,1072.0 243.6,1067.3 243.8,1062.5 243.9,1057.8 244.0,1053.1 244.1,1048.3 244.2,1043.5 244.3,1038.8 244.4,1034.0 244.5,1029.2 244.6,1024.5 244.6,1019.6 244.7,1014.8 244.8,1010.1 244.9,1005.4 245.0,1000.6 245.2,995.9 245.3,991.3 245.5,986.6 245.7,981.9 245.9,977.3 246.0,972.6 246.2,968.0 246.4,963.4 246.7,958.7 246.9,954.1 247.1,949.5 247.3,945.0 247.6,940.4 247.8,935.8 248.1,931.3 248.4,926.7 248.6,922.2 248.9,917.7 249.2,913.2 249.5,908.7 249.8,904.2 250.1,899.8 250.5,895.3 250.8,890.9 251.1,886.4 251.5,882.0 251.9,877.6 252.2,873.2 252.6,868.8 253.0,864.4 253.4,860.1 253.8,855.7 254.2,851.4 254.6,847.0 255.1,842.7 255.5,838.4 255.9,834.1 256.4,829.8 256.9,825.5 257.3,821.3 257.8,817.0 258.3,812.8 258.8,808.5 259.3,804.3 259.8,800.1 260.3,795.9 260.8,791.7 261.4,787.5 261.9,783.3 262.4,779.2 263.0,775.0 263.5,770.9 264.1,766.7 264.7,762.6 265.3,758.5 265.8,754.4 266.4,750.3 267.0,746.1 267.6,742.0 268.2,738.0 268.8,733.9 269.5,729.8 270.1,725.8 270.7,721.8 271.4,717.7 272.1,713.7 272.7,709.7 273.4,705.7 274.1,701.7 274.7,697.7 275.5,693.8 276.2,689.9 276.9,686.0 277.6,682.1 278.4,678.2 279.1,674.3 279.9,670.4 280.7,666.6 281.5,662.7 282.3,658.9 283.1,655.0 283.9,651.2 284.7,647.5 285.6,643.7 286.0,639.4 286.9,635.6 287.8,632.0 288.9,628.6 290.1,625.3 291.4,622.1 292.8,619.1 294.3,616.2 295.9,613.5 297.6,610.9 299.5,608.5 300.4,604.5 301.3,600.5 302.2,596.6 303.1,592.6 304.2,588.9 305.4,585.3 306.6,581.7 307.8,578.1 309.0,574.6 310.2,571.0 311.4,567.4 312.9,564.2 314.3,560.9 315.7,557.6 317.1,554.3 318.5,551.0 320.0,547.7 321.5,544.6 323.0,541.5 324.4,538.3 325.8,535.2 327.3,532.1 328.7,528.9 330.2,525.8 331.7,522.7 333.2,519.7 334.7,516.6 336.2,513.5 337.7,510.5 339.2,507.5 340.7,504.4 342.2,501.3 343.8,498.3 345.4,495.4 347.0,492.6 348.7,489.7 350.4,486.9 352.1,484.1 353.8,481.3 355.5,478.6 357.3,475.8 359.0,473.1 360.8,470.4 362.6,467.8 364.5,465.2 366.3,462.8 368.2,460.3 370.0,457.9 371.8,455.4 373.6,452.9 375.3,450.4 377.1,447.8 378.8,445.3 380.6,442.7 382.3,440.1 384.0,437.5 385.7,434.9 387.4,432.2 389.0,429.5 390.6,426.8 392.2,424.1 393.9,421.4 395.4,418.6 397.0,415.8 398.6,413.1 400.3,410.4 402.0,407.8 403.7,405.2 405.4,402.6 407.2,400.1 408.9,397.6 410.8,395.1 412.6,392.6 414.4,390.2 416.2,387.8 418.1,385.3 419.9,382.9 421.8,380.5 423.7,378.2 425.6,375.8 427.5,373.5 429.4,371.2 431.4,369.0 433.4,366.8 435.4,364.5 437.4,362.3 439.4,360.1 441.4,357.9 443.4,355.7 445.4,353.5 447.5,351.4 449.6,349.3 451.7,347.3 453.9,345.3 456.1,343.3 458.3,341.4 460.5,339.5 462.8,337.6 465.0,335.7 467.3,333.8 469.6,332.1 472.1,330.6 474.6,328.9 477.0,327.2 479.4,325.5 481.8,323.9 484.2,322.3 486.7,320.7 489.2,319.2 491.7,317.7 494.2,316.1 496.8,314.6 499.3,313.1 501.8,311.6 504.3,310.1 506.9,308.6 509.4,307.1 512.0,305.7 514.7,304.3 517.3,303.0 519.9,301.6 522.5,300.2 525.1,298.7 527.6,297.2 530.2,295.7 532.7,294.3 535.2,292.8 537.8,291.3 540.3,289.8 542.8,288.2 545.3,286.7 547.8,285.1 550.3,283.5 552.8,282.0 555.3,280.5 557.8,279.0 560.3,277.4 562.8,275.8 565.3,274.3 567.8,272.8 570.4,271.4 573.0,269.9 575.5,268.5 578.1,267.0 580.7,265.6 583.3,264.2 585.9,262.8 588.6,261.5 591.3,260.2 594.1,259.1 596.8,257.8 599.5,256.5 602.1,255.2 604.5,253.5 607.1,252.0 609.7,250.6 612.3,249.2 614.9,247.8 617.6,246.5 620.3,245.2 622.9,243.9 625.6,242.6 628.3,241.3 631.0,240.0 633.8,238.9 636.7,237.9 639.5,236.9 642.4,235.9 645.4,235.0 648.3,234.1 651.3,233.2 654.3,232.3 657.3,231.5 660.3,230.7 663.4,230.0 666.5,229.2 669.5,228.5 672.7,227.8 676.0,227.4 679.1,226.7 682.2,226.0 685.4,225.4 688.5,224.7 691.6,224.1 694.7,223.4 697.9,222.7 701.0,222.1 704.1,221.4 707.2,220.7 710.3,220.0 713.5,219.3 716.6,218.7 719.7,218.0 722.8,217.3 725.9,216.6 729.0,215.9 732.1,215.2 735.3,214.6 738.4,213.9 741.6,213.3 744.7,212.6 747.9,212.0 751.0,211.4 754.2,210.8 757.4,210.1 760.5,209.5 763.7,208.9 766.8,208.3 770.0,207.7 773.2,207.0 776.4,206.4 779.5,205.8 782.7,205.2 785.9,204.6 789.1,204.0 792.2,203.4 795.4,202.9 798.6,202.3 801.9,201.7 805.1,201.2 808.3,200.6 811.5,200.1 814.7,199.6 818.0,199.0 821.2,198.5 824.4,198.0 827.7,197.5 830.9,197.0 834.2,196.5 837.5,196.0 840.8,195.6 844.1,195.2 847.4,194.7 850.7,194.3 854.0,193.9 857.3,193.4 860.6,193.0 863.9,192.5 867.2,192.1 870.5,191.6 873.8,191.2 877.1,190.8 880.4,190.3 883.7,189.9 887.0,189.5 890.3,189.0 893.6,188.6 897.0,188.2 900.3,187.9 903.7,187.5 907.0,187.1 910.3,186.8 913.7,186.5 917.0,186.1 920.3,185.8 923.7,185.5 927.0,185.2 930.3,184.8 933.7,184.5 937.0,184.2 940.4,183.8 943.7,183.5 947.1,183.2 950.5,182.8 953.9,182.5 957.2,182.1 960.6,181.8 964.0,181.4 967.3,181.0 970.7,180.7 974.1,180.3 977.5,179.9 980.8,179.5 984.2,179.2 987.6,178.8 991.0,178.4 994.3,178.1 997.7,177.7 1001.1,177.4 1004.5,177.1 1007.9,176.7 1011.3,176.4 1014.7,176.1 1018.1,175.8 1021.5,175.4 1024.9,175.1 1028.3,174.8 1031.7,174.5 1035.1,174.2 1038.5,173.9 1041.9,173.6 1045.3,173.3 1048.7,173.0 1052.1,172.7 1055.5,172.4 1058.9,172.1 1062.3,171.8 1065.7,171.5 1069.1,171.2 1072.5,170.9 1075.9,170.6 1079.3,170.3 1082.7,170.0 1086.1,169.7 1089.5,169.4 1092.9,169.1 1096.4,168.8 1099.8,168.5 1103.2,168.2 1106.6,167.9 1110.0,167.6 1113.4,167.3 1116.7,167.1 1120.1,166.8 1123.5,166.5 1126.8,166.2 1130.2,165.9 1133.5,165.7 1136.9,165.4 1140.3,165.1 1143.6,164.8 1147.0,164.6 1150.4,164.3 1153.8,164.0 1157.2,163.7 1160.6,163.4 1164.0,163.1 1167.4,162.9 1170.8,162.6 1174.2,162.3 1177.6,162.0 1181.0,161.7 1184.4,161.4 1187.8,161.1 1191.2,160.8 1194.6,160.5 1198.0,160.2 1201.4,159.9 1204.8,159.5 1208.2,159.2 1211.6,158.8 1215.1,158.5 1218.5,158.1 1221.9,157.7 1225.3,157.3 1228.7,156.9 1232.1,156.5 1235.5,156.1 1238.9,155.7 1242.3,155.3 1245.7,154.9 1249.1,154.5 1252.5,154.1 1256.0,153.7 1259.4,153.4 1262.8,153.0 1266.3,152.7 1269.7,152.4 1273.1,152.1 1276.6,151.8 1280.0,151.6 1283.4,151.3 1286.7,151.2 1290.1,151.0 1293.4,150.9 1296.8,150.7 1300.4,150.6 1303.9,150.4 1307.5,150.3 1311.0,150.1 1314.5,150.0 1318.0,149.9 1321.5,149.7 1325.0,149.6 1328.5,149.5 1332.0,149.4 1335.6,149.2 1339.1,149.1 1342.6,149.0 1346.1,148.9 1349.7,148.8 1353.2,148.7 1356.7,148.6 1360.3,148.5 1363.8,148.5 1367.3,148.4 1370.9,148.3 1374.5,148.2 1378.0,148.2 1381.6,148.1 1385.1,148.0 1388.7,148.0 1392.3,147.9 1395.9,147.9 1399.4,147.9 1403.0,147.8 1406.6,147.8 1410.2,147.8 1413.8,147.8 1417.4,147.8 1421.0,147.8 1424.6,147.7 1428.2,147.7 1431.8,147.7 1435.4,147.7 1439.1,147.7 1442.7,147.7 1446.3,147.7 1450.0,147.7 1453.6,147.7 1457.2,147.7 1460.9,147.6 1464.5,147.6 1468.2,147.6 1471.8,147.6 1475.5,147.6 1479.1,147.6 1482.8,147.6 1486.5,147.6 1490.1,147.6 1493.8,147.6 1497.5,147.6 1501.2,147.6 1504.8,147.6" stroke="#ffff00"/>
<path d="M243.0,1090.9 243.1,1086.2 243.1,1081.3 243.1,1076.5 243.1,1071.7 243.1,1066.9 243.1,1062.1 243.2,1057.3 243.2,1052.6 243.3,1047.8 243.3,1043.1 243.4,1038.3 243.5,1033.6 243.6,1028.9 243.7,1024.2 243.8,1019.5 243.9,1014.8 244.0,1010.1 244.1,1005.5 244.2,1000.8 244.4,996.2 244.5,991.6 244.7,987.0 244.9,982.3 245.0,977.8 245.2,973.2 245.4,968.6 245.6,964.0 245.8,959.5 246.0,954.9 246.3,950.4 246.5,945.9 246.7,941.4 247.0,936.9 247.2,932.4 247.5,927.9 247.8,923.5 248.0,919.0 248.3,914.6 248.6,910.1 248.9,905.7 249.2,901.3 249.6,896.9 249.9,892.5 250.2,888.2 250.6,883.8 250.9,879.4 251.3,875.1 251.7,870.8 252.0,866.4 252.4,862.1 252.8,857.8 253.2,853.5 253.6,849.3 254.1,845.0 254.5,840.7 254.9,836.5 255.4,832.3 255.8,828.0 256.3,823.8 256.7,819.6 257.2,815.4 257.7,811.2 258.2,807.1 258.7,802.9 259.2,798.7 259.7,794.6 260.2,790.5 260.8,786.4 261.3,782.3 261.8,778.2 262.4,774.1 263.0,770.0 263.5,765.9 264.1,761.8 264.6,757.8 265.2,753.7 265.8,749.7 266.4,745.6 267.0,741.6 267.6,737.6 268.2,733.6 268.9,729.6 269.5,725.6 270.1,721.6 270.7,717.6 271.3,713.6 271.9,709.6 272.6,705.6 273.2,701.7 274.0,697.8 274.7,693.9 275.4,690.1 276.1,686.3 276.9,682.4 277.6,678.6 278.4,674.8 279.2,671.0 279.9,667.2 280.7,663.3 281.4,659.5 282.2,655.8 283.1,652.1 283.9,648.3 284.7,644.6 285.6,640.9 286.4,637.2 287.3,633.5 288.1,629.8 289.0,626.2 289.9,622.5 290.8,618.9 291.6,615.3 292.6,611.6 293.5,608.1 294.5,604.5 295.4,601.0 296.4,597.5 297.4,594.0 298.4,590.5 299.4,587.0 300.4,583.5 301.4,580.1 302.5,576.6 303.5,573.2 304.6,569.8 305.7,566.5 306.8,563.2 308.0,559.9 309.1,556.6 310.3,553.3 311.4,550.0 312.6,546.7 313.8,543.5 315.0,540.2 316.2,537.1 317.5,534.0 318.8,530.9 320.1,527.8 321.4,524.7 322.7,521.7 324.1,518.6 325.4,515.6 326.8,512.7 328.2,509.7 329.7,506.8 331.1,503.9 332.6,501.1 334.1,498.2 335.6,495.4 337.1,492.6 338.6,489.8 340.2,487.1 341.7,484.3 343.3,481.6 344.9,478.9 346.5,476.2 348.1,473.6 349.8,471.0 351.5,468.4 353.2,465.8 354.9,463.3 356.6,460.7 358.3,458.2 360.0,455.7 361.8,453.2 363.6,450.7 365.3,448.3 367.2,445.9 369.0,443.5 370.8,441.2 372.7,438.8 374.5,436.5 376.4,434.2 378.3,431.9 380.3,429.6 382.2,427.4 384.2,425.2 386.1,423.0 388.1,420.8 390.1,418.7 392.1,416.6 394.2,414.5 396.2,412.4 398.3,410.3 400.4,408.3 402.5,406.3 404.6,404.3 406.8,402.3 408.9,400.4 411.1,398.5 413.3,396.6 415.5,394.7 417.7,392.8 420.0,391.0 422.2,389.2 424.5,387.5 426.8,385.7 429.1,384.0 431.5,382.3 433.9,380.7 436.3,379.0 438.7,377.4 441.1,375.8 443.5,374.3 446.0,372.7 448.5,371.2 451.0,369.7 453.5,368.3 456.0,366.8 458.5,365.3 461.0,363.8 463.5,362.4 466.0,360.9 468.6,359.5 471.1,358.0 473.6,356.6 476.2,355.2 478.8,353.8 481.4,352.5 484.0,351.1 486.6,349.8 489.2,348.5 491.9,347.2 494.5,345.9 497.2,344.6 499.8,343.4 502.5,342.1 505.2,340.9 507.9,339.7 510.6,338.5 513.3,337.3 516.0,336.1 518.8,334.9 521.5,333.8 524.3,332.6 527.0,331.5 529.8,330.4 532.6,329.3 535.4,328.2 538.2,327.1 541.0,326.0 543.8,324.9 546.6,323.8 549.4,322.7 552.2,321.7 555.0,320.6 557.8,319.5 560.6,318.5 563.4,317.4 566.2,316.3 569.1,315.3 571.9,314.2 574.7,313.2 577.6,312.2 580.5,311.2 583.3,310.2 586.2,309.2 589.0,308.2 591.9,307.2 594.7,306.2 597.6,305.2 600.4,304.2 603.3,303.2 606.2,302.2 609.1,301.3 612.0,300.4 614.9,299.4 617.8,298.4 620.7,297.5 623.6,296.5 626.5,295.6 629.4,294.6 632.3,293.7 635.3,292.8 638.2,291.9 641.1,291.0 644.1,290.1 647.0,289.2 650.0,288.3 652.9,287.4 655.9,286.6 658.8,285.7 661.8,284.9 664.8,284.0 667.8,283.2 670.8,282.4 673.8,281.6 676.8,280.7 679.8,279.9 682.8,279.1 685.8,278.3 688.8,277.6 691.9,276.8 694.9,276.0 697.9,275.2 700.9,274.4 704.0,273.6 707.0,272.9 710.0,272.1 713.1,271.3 716.1,270.6 719.2,269.9 722.2,269.1 725.3,268.4 728.4,267.7 731.4,266.9 734.5,266.2 737.6,265.5 740.6,264.8 743.7,264.1 746.8,263.4 749.9,262.7 753.0,261.9 756.0,261.2 759.1,260.5 762.2,259.8 765.3,259.2 768.4,258.5 771.5,257.8 774.7,257.2 777.8,256.5 780.9,255.9 784.1,255.3 787.2,254.6 790.3,254.0 793.4,253.3 796.6,252.7 799.7,252.1 802.9,251.5 806.0,250.8 809.1,250.2 812.3,249.6 815.4,249.0 818.6,248.3 821.7,247.7 824.9,247.1 828.0,246.5 831.2,245.9 834.3,245.3 837.5,244.7 840.7,244.2 843.9,243.6 847.1,243.0 850.2,242.4 853.4,241.8 856.6,241.2 859.7,240.6 862.9,240.0 866.1,239.5 869.3,238.9 872.5,238.4 875.7,237.8 878.8,237.2 882.0,236.7 885.2,236.1 888.4,235.5 891.6,235.0 894.8,234.4 898.0,233.9 901.2,233.4 904.4,232.8 907.7,232.3 910.9,231.8 914.1,231.2 917.3,230.7 920.6,230.1 923.7,229.6 926.9,229.0 930.1,228.5 933.3,227.9 936.5,227.4 939.7,226.9 942.8,226.3 946.0,225.8 949.2,225.3 952.4,224.8 955.6,224.3 958.8,223.9 962.0,223.4 965.1,222.9 968.3,222.5 971.5,222.0 974.7,221.6 977.9,221.1 981.2,220.7 984.4,220.2 987.6,219.8 990.9,219.3 994.1,218.9 997.3,218.4 1000.5,217.9 1003.7,217.4 1006.9,216.9 1010.1,216.3 1013.2,215.8 1016.4,215.2 1019.6,214.7 1022.8,214.1 1026.0,213.5 1029.2,212.9 1032.4,212.3 1035.6,211.8 1038.8,211.2 1042.1,210.6 1045.3,210.0 1048.5,209.4 1051.7,208.8 1055.0,208.2 1058.2,207.6 1061.4,207.0 1064.6,206.4 1067.8,205.8 1071.1,205.2 1074.3,204.6 1077.5,204.0 1080.7,203.4 1083.9,202.8 1087.1,202.2 1090.4,201.7 1093.6,201.1 1096.8,200.5 1100.0,200.0 1103.3,199.4 1106.5,198.9 1109.7,198.3 1113.0,197.8 1116.2,197.2 1119.4,196.7 1122.7,196.1 1125.9,195.6 1129.2,195.0 1132.4,194.5 1135.6,193.9 1138.9,193.4 1142.1,192.8 1145.4,192.3 1148.6,191.8 1151.9,191.2 1155.1,190.7 1158.4,190.2 1161.6,189.6 1164.9,189.1 1168.1,188.6 1171.4,188.1 1174.6,187.6 1177.9,187.1 1181.1,186.6 1184.4,186.1 1187.7,185.6 1190.9,185.1 1194.2,184.6 1197.4,184.1 1200.7,183.7 1204.0,183.2 1207.2,182.7 1210.5,182.3 1213.7,181.8 1217.0,181.3 1220.3,180.9 1223.5,180.4 1226.8,180.0 1230.1,179.6 1233.4,179.1 1236.6,178.7 1239.9,178.3 1243.2,178.0 1246.4,177.6 1249.7,177.2 1253.0,176.9 1256.3,176.6 1259.6,176.3 1262.8,176.0 1266.1,175.7 1269.4,175.4 1272.7,175.1 1276.0,174.9 1279.2,174.6 1282.5,174.3 1285.8,174.0 1289.1,173.7 1292.4,173.4 1295.7,173.0 1299.0,172.7 1302.3,172.3 1305.6,172.0 1308.8,171.6 1312.1,171.2 1315.4,170.9 1318.7,170.5 1322.0,170.1 1325.3,169.7 1328.6,169.4 1331.9,169.0 1335.2,168.6 1338.5,168.2 1341.8,167.8 1345.1,167.4 1348.4,167.0 1351.7,166.6 1355.1,166.1 1358.4,165.7 1361.7,165.3 1365.0,164.9 1368.3,164.5 1371.6,164.1 1374.9,163.7 1378.2,163.2 1381.5,162.8 1384.9,162.4 1388.2,162.0 1391.5,161.6 1394.8,161.2 1398.1,160.8 1401.5,160.3 1404.8,159.9 1408.1,159.5 1411.4,159.1 1414.8,158.7 1418.1,158.3 1421.4,157.9 1424.7,157.5 1428.1,157.1 1431.4,156.7 1434.7,156.3 1438.1,155.9 1441.4,155.5 1444.7,155.1 1448.1,154.6 1451.4,154.2 1454.7,153.8 1458.1,153.4 1461.4,153.0 1464.8,152.6 1468.1,152.2 1471.4,151.8 1474.8,151.3 1478.1,150.9 1481.5,150.5 1484.8,150.1 1488.2,149.7 1491.5,149.3 1494.9,148.8 1498.2,148.4 1501.6,148.0 1504.8,147.6" stroke="#ffc0cb"/>
<path d="M243.0,1090.9 243.3,1086.4 243.1,1081.4 242.9,1076.3 242.8,1071.3 242.6,1066.3 242.5,1061.2 242.4,1056.2 242.2,1051.2 242.1,1046.3 242.0,1041.3 241.9,1036.3 241.8,1031.4 241.7,1026.4 241.6,1021.5 241.6,1016.6 241.5,1011.7 241.5,1006.8 241.4,1001.9 241.4,997.0 241.3,992.1 241.3,987.3 241.3,982.4 241.3,977.6 241.3,972.7 241.3,967.9 241.3,963.1 241.3,958.3 241.3,953.5 241.4,948.7 241.4,944.0 241.5,939.2 241.5,934.4 241.6,929.7 241.7,925.0 241.8,920.3 241.8,915.6 241.9,910.9 242.0,906.2 242.2,901.5 242.3,896.8 242.4,892.2 242.5,887.5 242.7,882.9 242.8,878.3 243.0,873.7 243.2,869.0 243.3,864.5 243.5,859.9 243.7,855.3 243.9,850.7 244.1,846.2 244.3,841.6 244.6,837.1 244.8,832.6 245.0,828.1 245.3,823.6 245.5,819.1 245.8,814.6 246.0,810.1 246.3,805.7 246.6,801.2 246.9,796.8 247.2,792.3 247.5,787.9 247.8,783.5 248.1,779.1 248.4,774.7 248.7,770.3 249.1,765.9 249.4,761.5 249.8,757.2 250.1,752.8 250.5,748.4 250.8,744.1 251.2,739.7 251.5,735.4 251.9,731.0 252.2,726.7 252.6,722.4 253.0,718.1 253.5,713.9 253.9,709.6 254.4,705.4 254.8,701.2 255.3,697.0 255.8,692.8 256.2,688.6 256.7,684.4 257.2,680.3 257.8,676.2 258.3,672.0 258.8,667.9 259.4,663.8 260.0,659.8 260.5,655.7 261.1,651.6 261.7,647.6 262.3,643.6 262.9,639.6 263.5,635.6 264.2,631.6 264.8,627.6 265.5,623.7 266.1,619.8 266.8,615.9 267.5,612.0 268.2,608.1 268.9,604.2 269.6,600.2 270.3,596.4 271.1,592.5 271.8,588.7 272.6,584.9 273.3,581.1 274.1,577.3 274.9,573.5 275.7,569.8 276.5,566.0 277.3,562.2 278.1,558.5 278.8,554.7 279.7,551.0 280.5,547.2 281.3,543.5 282.2,539.8 283.0,536.1 283.8,532.3 284.6,528.6 285.5,524.9 286.3,521.2 287.2,517.6 288.1,513.9 289.0,510.3 289.9,506.7 290.8,503.1 291.8,499.6 292.8,496.0 293.7,492.5 294.8,489.1 295.8,485.6 296.8,482.1 297.8,478.7 298.9,475.3 299.9,471.9 301.0,468.5 302.1,465.1 303.2,461.8 304.4,458.5 305.5,455.2 306.7,452.0 308.0,448.8 309.3,445.7 310.6,442.6 311.9,439.6 313.2,436.5 314.5,433.4 315.8,430.3 317.1,427.3 318.5,424.3 319.9,421.3 321.2,418.3 322.6,415.3 324.1,412.4 325.5,409.5 327.0,406.6 328.5,403.8 330.0,401.0 331.4,398.1 332.9,395.3 334.4,392.4 335.9,389.6 337.5,386.9 339.0,384.1 340.6,381.4 342.2,378.7 343.8,376.1 345.4,373.4 347.1,370.8 348.8,368.2 350.5,365.7 352.2,363.1 353.9,360.6 355.7,358.1 357.5,355.7 359.2,353.3 361.1,350.8 362.9,348.5 364.7,346.1 366.6,343.7 368.4,341.4 370.3,339.1 372.2,336.8 374.1,334.5 376.1,332.3 378.0,330.1 379.9,327.8 381.9,325.7 384.0,323.6 386.0,321.4 388.0,319.3 390.1,317.2 392.2,315.2 394.3,313.2 396.4,311.3 398.6,309.3 400.7,307.4 402.9,305.5 405.2,303.6 407.4,301.8 409.6,300.0 411.9,298.2 414.2,296.5 416.6,294.8 418.9,293.1 421.3,291.5 423.8,289.9 426.2,288.4 428.7,286.8 431.2,285.4 433.7,283.9 436.2,282.4 438.7,280.9 441.1,279.4 443.6,277.8 446.1,276.3 448.6,274.9 451.2,273.4 453.7,272.0 456.2,270.6 458.7,269.1 461.3,267.7 463.8,266.3 466.4,264.9 469.0,263.5 471.6,262.1 474.2,260.8 476.8,259.4 479.4,258.1 482.1,256.8 484.7,255.6 487.4,254.3 490.1,253.0 492.7,251.8 495.5,250.6 498.2,249.4 500.9,248.3 503.7,247.1 506.4,246.0 509.2,244.8 512.0,243.7 514.8,242.6 517.6,241.6 520.4,240.5 523.2,239.5 526.1,238.4 528.9,237.4 531.8,236.5 534.7,235.5 537.6,234.5 540.5,233.6 543.4,232.7 546.4,231.8 549.3,230.9 552.3,230.0 555.2,229.2 558.2,228.3 561.2,227.5 564.2,226.7 567.2,225.9 570.2,225.1 573.2,224.3 576.2,223.5 579.2,222.7 582.3,221.9 585.3,221.2 588.4,220.4 591.5,219.7 594.6,219.0 597.7,218.4 600.8,217.7 603.9,217.1 607.1,216.5 610.2,215.8 613.4,215.2 616.5,214.6 619.7,214.0 622.8,213.4 626.0,212.8 629.1,212.2 632.3,211.6 635.5,211.0 638.7,210.4 641.9,209.9 645.1,209.3 648.3,208.8 651.5,208.3 654.7,207.8 658.0,207.3 661.3,206.9 664.5,206.4 667.8,205.9 671.0,205.4 674.3,205.0 677.6,204.6 680.9,204.2 684.3,203.8 687.5,203.4 690.8,203.0 694.1,202.5 697.3,202.0 700.6,201.6 703.9,201.1 707.1,200.6 710.4,200.2 713.6,199.7 716.9,199.2 720.1,198.7 723.4,198.3 726.7,197.9 730.0,197.5 733.3,197.0 736.6,196.6 739.8,196.1 743.1,195.7 746.4,195.2 749.7,194.8 753.0,194.4 756.2,193.9 759.5,193.5 762.8,193.1 766.1,192.6 769.4,192.2 772.7,191.8 776.0,191.4 779.4,191.0 782.7,190.7 786.0,190.3 789.3,189.9 792.7,189.5 796.0,189.2 799.3,188.8 802.6,188.4 806.0,188.0 809.3,187.6 812.6,187.3 815.9,186.9 819.3,186.5 822.6,186.1 825.9,185.8 829.3,185.4 832.6,185.0 836.0,184.7 839.3,184.3 842.6,184.0 846.0,183.6 849.3,183.3 852.7,182.9 856.0,182.6 859.4,182.2 862.7,181.9 866.1,181.5 869.4,181.2 872.8,180.8 876.1,180.5 879.5,180.2 882.9,179.8 886.2,179.5 889.6,179.1 893.0,178.8 896.4,178.5 899.8,178.2 903.1,177.9 906.5,177.6 909.9,177.3 913.3,177.1 916.6,176.8 920.0,176.6 923.4,176.4 926.8,176.1 930.2,175.9 933.5,175.7 936.9,175.4 940.3,175.2 943.7,174.9 947.1,174.7 950.5,174.5 953.9,174.2 957.3,173.9 960.7,173.7 964.1,173.4 967.5,173.2 970.9,172.9 974.3,172.6 977.7,172.3 981.1,172.1 984.5,171.8 987.9,171.5 991.3,171.3 994.7,171.0 998.1,170.7 1001.5,170.5 1005.0,170.2 1008.4,169.9 1011.8,169.6 1015.2,169.3 1018.7,169.0 1022.1,168.7 1025.5,168.4 1028.9,168.1 1032.4,167.8 1035.8,167.5 1039.2,167.2 1042.7,166.9 1046.1,166.5 1049.5,166.2 1053.0,165.9 1056.4,165.6 1059.9,165.3 1063.3,165.0 1066.8,164.8 1070.2,164.5 1073.7,164.2 1077.1,164.0 1080.6,163.7 1084.1,163.5 1087.5,163.2 1091.0,163.0 1094.5,162.8 1097.9,162.6 1101.4,162.4 1104.8,162.3 1108.3,162.1 1111.8,161.9 1115.2,161.8 1118.7,161.6 1122.2,161.5 1125.6,161.4 1129.1,161.2 1132.6,161.1 1136.0,161.0 1139.5,160.9 1143.0,160.8 1146.4,160.7 1149.9,160.5 1153.4,160.4 1156.8,160.3 1160.3,160.2 1163.8,160.1 1167.2,160.0 1170.7,159.9 1174.2,159.7 1177.7,159.6 1181.1,159.5 1184.6,159.4 1188.1,159.2 1191.6,159.1 1195.0,159.0 1198.5,158.8 1202.0,158.7 1205.5,158.5 1209.0,158.3 1212.5,158.1 1215.9,157.9 1219.4,157.7 1222.9,157.5 1226.4,157.3 1229.9,157.1 1233.4,156.9 1236.9,156.7 1240.4,156.5 1243.9,156.3 1247.4,156.1 1250.9,155.8 1254.3,155.6 1257.8,155.4 1261.3,155.2 1264.8,155.0 1268.3,154.9 1271.8,154.7 1275.3,154.5 1278.8,154.4 1282.3,154.2 1285.9,154.1 1289.4,154.0 1292.9,153.9 1296.4,153.8 1299.9,153.7 1303.4,153.7 1306.9,153.6 1310.4,153.5 1313.9,153.4 1317.4,153.4 1321.0,153.3 1324.5,153.3 1328.0,153.2 1331.5,153.1 1335.0,153.1 1338.5,153.0 1342.1,153.0 1345.6,152.9 1349.1,152.9 1352.6,152.8 1356.2,152.8 1359.7,152.7 1363.2,152.7 1366.7,152.6 1370.3,152.6 1373.8,152.5 1377.3,152.5 1380.8,152.4 1384.4,152.4 1387.9,152.3 1391.4,152.2 1395.0,152.2 1398.5,152.1 1402.1,152.0 1405.6,151.9 1409.1,151.8 1412.7,151.7 1416.2,151.6 1419.8,151.5 1423.3,151.4 1426.8,151.3 1430.4,151.2 1433.9,151.0 1437.5,150.9 1441.0,150.8 1444.6,150.6 1448.1,150.5 1451.7,150.3 1455.2,150.1 1458.8,150.0 1462.3,149.8 1465.9,149.6 1469.4,149.5 1473.0,149.3 1476.6,149.1 1480.1,148.9 1483.7,148.7 1487.2,148.6 1490.8,148.4 1494.4,148.2 1497.9,148.0 1501.5,147.8 1504.8,147.6" stroke="#b22222"/>
</g>
<path d="M243.0,1090.9L1504.8,147.6" stroke="#000" stroke-width="5.2" stroke-dasharray="21.5,9.45" fill="none"/>
<rect x="178.4" y="102.8" width="1390.6" height="1035.2" fill="none" stroke="#000" stroke-width="3.1" stroke-linejoin="miter"/>
<path d="M243.0,1138.0V1152.8M495.1,1138.0V1152.8M747.3,1138.0V1152.8M1000.0,1138.0V1152.8M1252.3,1138.0V1152.8M1504.8,1138.0V1152.8M163.2,1090.9H178.4M163.2,902.8H178.4M163.2,714.7H178.4M163.2,526.9H178.4M163.2,338.5H178.4M163.2,147.6H178.4" stroke="#000" stroke-width="3.1" fill="none"/>
<text x="240.4" y="1196.0" font-size="38.0" text-anchor="middle">0.0</text>
<text x="494.8" y="1196.0" font-size="38.0" text-anchor="middle">0.2</text>
<text x="747.6" y="1196.0" font-size="38.0" text-anchor="middle">0.4</text>
<text x="1000.4" y="1196.0" font-size="38.0" text-anchor="middle">0.6</text>
<text x="1252.6" y="1196.0" font-size="38.0" text-anchor="middle">0.8</text>
<text x="1504.8" y="1196.0" font-size="38.0" text-anchor="middle">1.0</text>
<text x="150.0" y="1105.6" font-size="38.0" text-anchor="end">0.0</text>
<text x="150.0" y="917.5" font-size="38.0" text-anchor="end">0.2</text>
<text x="150.0" y="729.4" font-size="38.0" text-anchor="end">0.4</text>
<text x="150.0" y="541.6" font-size="38.0" text-anchor="end">0.6</text>
<text x="150.0" y="353.2" font-size="38.0" text-anchor="end">0.8</text>
<text x="150.0" y="162.3" font-size="38.0" text-anchor="end">1.0</text>
<text transform="translate(871.4,1248.7) scale(1.032,1)" x="0" y="0" font-size="38.0" text-anchor="middle">False Positive Rate</text>
<text transform="translate(62.1,621.2) rotate(-90) scale(1.027,1)" x="0" y="0" font-size="38.0" text-anchor="middle">True Positive Rate</text>
<rect x="1117.6" y="580.2" width="431.3" height="538.4" rx="4.8" ry="4.8" fill="#fff" fill-opacity="0.8" stroke="#cccccc" stroke-opacity="0.8" stroke-width="3.9"/>
<path d="M1130.2,609.4H1208.7" stroke="#0000ff" stroke-width="5.4" stroke-linecap="square" fill="none"/>
<text transform="translate(1239.0,623.8) scale(1.0462,1)" x="0" y="0" font-size="38.0">CAA</text>
<path d="M1130.2,668.4H1208.7" stroke="#008000" stroke-width="5.4" stroke-linecap="square" fill="none"/>
<text transform="translate(1239.0,682.8) scale(1.0426,1)" x="0" y="0" font-size="38.0">NPSG</text>
<path d="M1130.2,727.3H1208.7" stroke="#ff0000" stroke-width="5.4" stroke-linecap="square" fill="none"/>
<text transform="translate(1239.0,741.7) scale(1.0459,1)" x="0" y="0" font-size="38.0">INLPG</text>
<path d="M1130.2,786.2H1208.7" stroke="#800080" stroke-width="5.4" stroke-linecap="square" fill="none"/>
<text transform="translate(1239.0,800.6) scale(1.0556,1)" x="0" y="0" font-size="38.0">ACE</text>
<path d="M1130.2,845.2H1208.7" stroke="#ffa500" stroke-width="5.4" stroke-linecap="square" fill="none"/>
<text transform="translate(1239.0,859.6) scale(1.0426,1)" x="0" y="0" font-size="38.0">BASNet</text>
<path d="M1130.2,904.1H1208.7" stroke="#ffff00" stroke-width="5.4" stroke-linecap="square" fill="none"/>
<text transform="translate(1239.0,918.5) scale(1.0352,1)" x="0" y="0" font-size="38.0">IRGMcS</text>
<path d="M1130.2,963.1H1208.7" stroke="#ffc0cb" stroke-width="5.4" stroke-linecap="square" fill="none"/>
<text transform="translate(1239.0,977.5) scale(1.0338,1)" x="0" y="0" font-size="38.0">TSCNet</text>
<path d="M1130.2,1022.0H1208.7" stroke="#b22222" stroke-width="5.4" stroke-linecap="square" fill="none"/>
<text transform="translate(1239.0,1036.5) scale(1.0429,1)" x="0" y="0" font-size="38.0">MHGAN</text>
<path d="M1130.2,1081.0H1208.7" stroke="#000" stroke-width="5.4" stroke-dasharray="21.5,9.45" fill="none"/>
<text transform="translate(1239.0,1095.4) scale(1.0290,1)" x="0" y="0" font-size="38.0">Random Guess</text>
</svg></body></html>
